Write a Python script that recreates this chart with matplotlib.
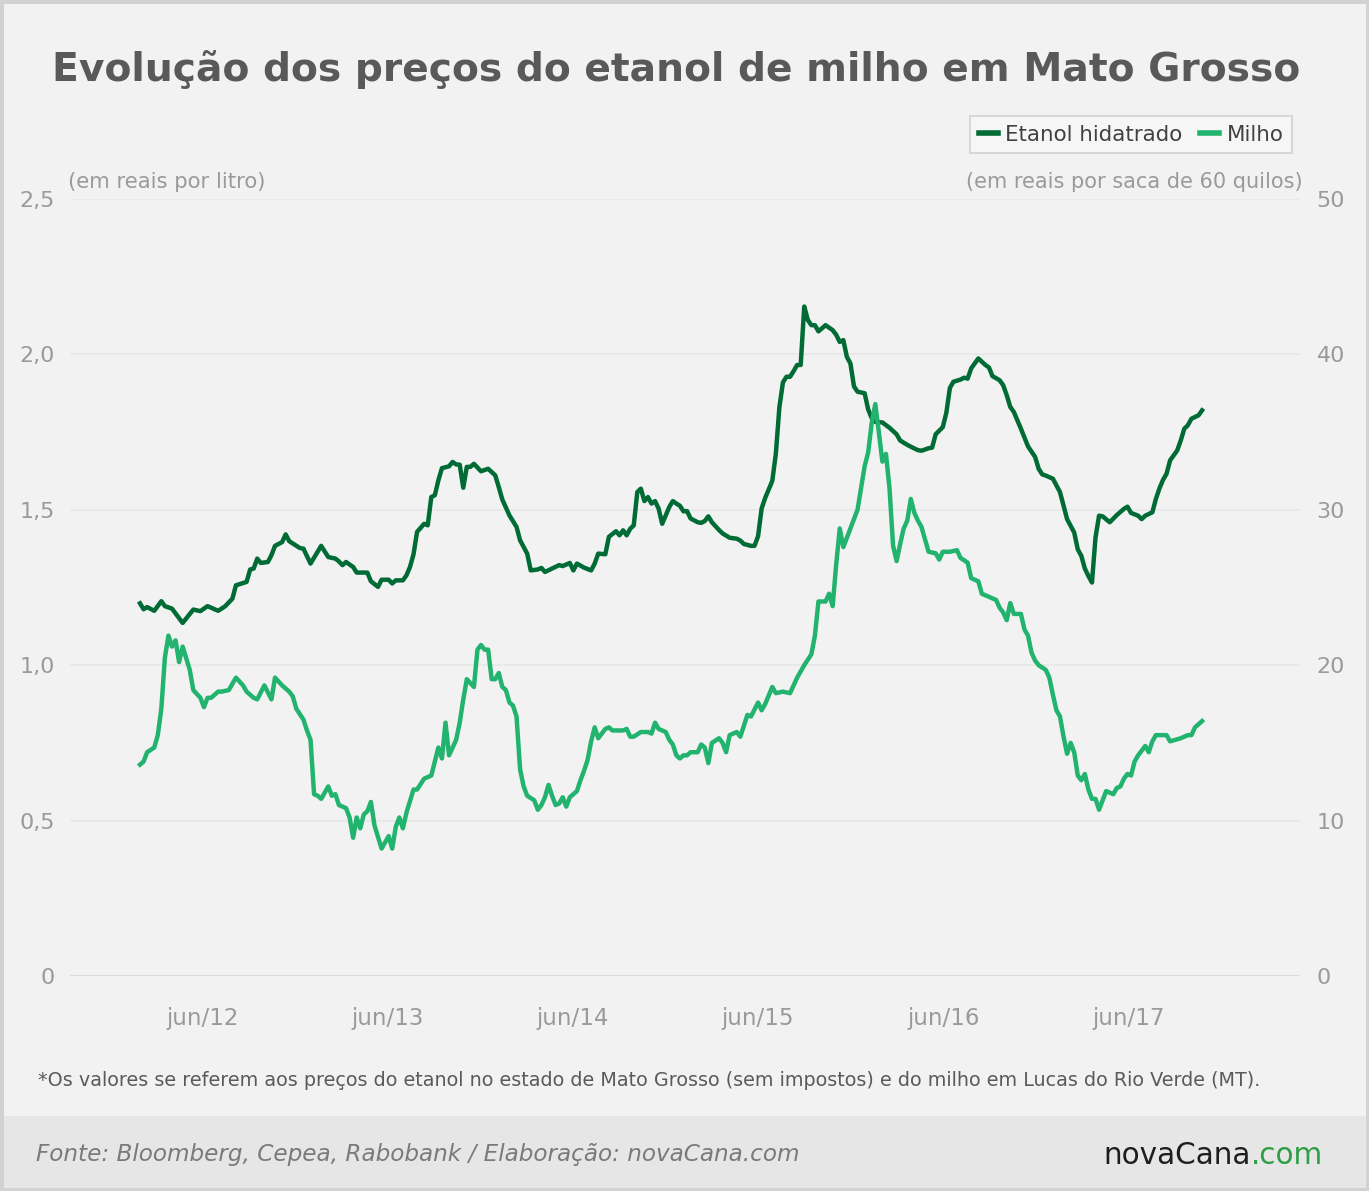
import numpy as np
import pandas as pd
import matplotlib
matplotlib.use("Agg")
import matplotlib.pyplot as plt
from matplotlib.patches import Rectangle

# weekly series, week 0 = 2012-01-30
START = pd.Timestamp("2012-01-30")

etanol_week = [0, 1, 2, 4, 6, 7, 9, 12, 15, 17, 19, 22, 24, 26, 27, 30, 31, 32, 33, 34,
               36, 37, 38, 40, 41, 42, 45, 46, 48, 51, 53, 55, 56, 57, 58, 60, 61, 64, 65, 67,
               68, 70, 71, 72, 74, 75, 76, 77, 78, 80, 81, 82, 83, 84, 85, 87, 88, 89, 90, 91,
               92, 93, 94, 96, 98, 100, 101, 102, 104, 106, 107, 109, 110, 112, 113, 114, 116, 118, 119, 121,
               122, 123, 125, 127, 128, 129, 131, 132, 134, 135, 136, 137, 138, 139, 140, 141, 142, 143, 144, 145,
               146, 147, 149, 150, 151, 152, 153, 154, 155, 157, 158, 159, 160, 161, 163, 164, 166, 168, 169, 170,
               172, 173, 174, 175, 176, 178, 179, 180, 181, 182, 183, 184, 185, 186, 187, 188, 189, 190, 191, 193,
               195, 196, 197, 198, 199, 200, 201, 202, 204, 205, 206, 207, 209, 211, 213, 214, 216, 217, 219, 220,
               222, 223, 224, 226, 227, 228, 229, 231, 232, 233, 234, 236, 238, 239, 240, 242, 243, 244, 245, 246,
               248, 250, 252, 253, 254, 255, 257, 259, 260, 261, 263, 264, 265, 266, 267, 268, 269, 270, 271, 273,
               275, 277, 278, 279, 281, 282, 283, 285, 286, 287, 288, 289, 290, 292, 293, 294, 295, 296, 298, 299]
etanol = [1.199, 1.18, 1.187, 1.175, 1.206, 1.19, 1.182, 1.136, 1.179, 1.174, 1.19, 1.175, 1.19, 1.214, 1.257, 1.268, 1.308, 1.311, 1.343, 1.329,
          1.332, 1.354, 1.384, 1.396, 1.421, 1.399, 1.377, 1.375, 1.327, 1.384, 1.348, 1.343, 1.334, 1.322, 1.332, 1.316, 1.298, 1.298, 1.27, 1.252,
          1.275, 1.275, 1.263, 1.273, 1.273, 1.289, 1.316, 1.357, 1.429, 1.455, 1.45, 1.541, 1.547, 1.595, 1.634, 1.640, 1.654, 1.646, 1.645, 1.571,
          1.638, 1.638, 1.648, 1.624, 1.632, 1.611, 1.573, 1.533, 1.482, 1.445, 1.402, 1.359, 1.305, 1.308, 1.313, 1.300, 1.311, 1.322, 1.319, 1.329,
          1.305, 1.327, 1.314, 1.305, 1.327, 1.359, 1.357, 1.413, 1.431, 1.418, 1.434, 1.418, 1.439, 1.45, 1.557, 1.568, 1.528, 1.541, 1.52, 1.528,
          1.504, 1.455, 1.509, 1.528, 1.52, 1.513, 1.495, 1.496, 1.472, 1.460, 1.458, 1.464, 1.479, 1.460, 1.435, 1.424, 1.410, 1.407, 1.401, 1.390,
          1.384, 1.384, 1.415, 1.504, 1.538, 1.593, 1.68, 1.83, 1.91, 1.928, 1.928, 1.946, 1.966, 1.966, 2.154, 2.111, 2.094, 2.094, 2.074, 2.094,
          2.078, 2.063, 2.040, 2.046, 1.992, 1.971, 1.897, 1.880, 1.875, 1.823, 1.795, 1.783, 1.781, 1.764, 1.743, 1.723, 1.709, 1.703, 1.692, 1.690,
          1.698, 1.700, 1.743, 1.766, 1.812, 1.892, 1.912, 1.919, 1.925, 1.922, 1.955, 1.987, 1.966, 1.958, 1.930, 1.917, 1.901, 1.869, 1.831, 1.815,
          1.761, 1.704, 1.670, 1.632, 1.614, 1.610, 1.600, 1.557, 1.513, 1.470, 1.427, 1.373, 1.352, 1.311, 1.287, 1.266, 1.411, 1.481, 1.479, 1.460,
          1.483, 1.503, 1.510, 1.490, 1.481, 1.470, 1.481, 1.492, 1.535, 1.569, 1.596, 1.616, 1.659, 1.691, 1.723, 1.761, 1.772, 1.793, 1.804, 1.820]

milho_week = [0, 1, 2, 4, 5, 6, 7, 8, 9, 10, 11, 12, 14, 15, 17, 18, 19, 20, 22, 23,
              25, 27, 29, 30, 32, 33, 35, 37, 38, 40, 42, 43, 44, 46, 47, 48, 49, 50, 51, 53,
              54, 55, 56, 58, 59, 60, 61, 62, 63, 64, 65, 66, 68, 70, 71, 72, 73, 74, 75, 77,
              78, 80, 82, 83, 84, 85, 86, 87, 89, 90, 91, 92, 94, 95, 96, 97, 98, 99, 100, 101,
              102, 103, 104, 105, 106, 107, 108, 109, 111, 112, 113, 114, 115, 116, 117, 118, 119, 120, 121, 123,
              124, 125, 126, 127, 128, 129, 131, 132, 133, 136, 137, 138, 139, 141, 143, 144, 145, 146, 148, 149,
              150, 151, 152, 153, 154, 155, 157, 158, 159, 160, 161, 163, 164, 165, 166, 168, 169, 171, 172, 174,
              175, 176, 178, 179, 181, 183, 185, 187, 189, 190, 191, 193, 194, 195, 196, 197, 198, 200, 202, 204,
              205, 206, 207, 208, 209, 210, 211, 212, 213, 214, 215, 216, 217, 218, 219, 220, 222, 224, 225, 226,
              228, 230, 231, 233, 234, 235, 236, 237, 239, 241, 242, 243, 244, 245, 246, 248, 249, 250, 251, 252,
              253, 255, 256, 257, 258, 259, 260, 261, 262, 263, 264, 265, 266, 267, 268, 269, 270, 271, 272, 274,
              275, 276, 277, 278, 279, 280, 281, 282, 283, 284, 285, 286, 289, 290, 293, 295, 296, 297, 299]
milho = [13.6, 13.8, 14.4, 14.7, 15.5, 17.2, 20.5, 21.9, 21.2, 21.6, 20.2, 21.2, 19.7, 18.4, 17.9, 17.3, 17.9, 17.9, 18.3, 18.3,
         18.4, 19.2, 18.7, 18.3, 17.9, 17.8, 18.7, 17.8, 19.2, 18.7, 18.3, 18.0, 17.2, 16.5, 15.8, 15.2, 11.7, 11.6, 11.4, 12.2,
         11.6, 11.7, 11.0, 10.8, 10.2, 8.9, 10.2, 9.5, 10.4, 10.6, 11.2, 9.7, 8.2, 9.0, 8.2, 9.6, 10.2, 9.5, 10.5, 12.0,
         12.0, 12.7, 12.9, 13.8, 14.7, 14.0, 16.3, 14.2, 15.2, 16.3, 17.8, 19.1, 18.6, 21.0, 21.3, 21.0, 21.0, 19.1, 19.1, 19.5,
         18.6, 18.4, 17.6, 17.4, 16.7, 13.3, 12.2, 11.6, 11.3, 10.7, 11.0, 11.5, 12.3, 11.6, 11.0, 11.1, 11.5, 10.9, 11.5, 11.9,
         12.6, 13.2, 13.9, 15.1, 16.0, 15.3, 15.9, 16.0, 15.8, 15.8, 15.9, 15.4, 15.4, 15.7, 15.7, 15.6, 16.3, 15.9, 15.7, 15.2,
         14.9, 14.2, 14.0, 14.2, 14.2, 14.4, 14.4, 14.9, 14.7, 13.7, 15.0, 15.3, 15.0, 14.4, 15.5, 15.7, 15.4, 16.8, 16.7, 17.6,
         17.1, 17.5, 18.6, 18.2, 18.3, 18.2, 19.2, 20.0, 20.7, 21.9, 24.1, 24.1, 24.6, 23.8, 26.5, 28.8, 27.6, 28.8, 30.0, 32.8,
         33.7, 35.6, 36.8, 35.0, 33.1, 33.6, 31.4, 27.7, 26.7, 27.8, 28.8, 29.3, 30.7, 29.8, 29.3, 28.9, 27.3, 27.2, 26.8, 27.3,
         27.3, 27.4, 26.9, 26.6, 25.6, 25.5, 25.4, 24.6, 24.4, 24.2, 23.7, 23.4, 22.9, 24.0, 23.3, 23.3, 22.3, 21.9, 20.8, 20.3,
         20.0, 19.7, 19.2, 18.1, 17.1, 16.7, 15.4, 14.3, 15.0, 14.4, 12.9, 12.6, 13.0, 12.0, 11.4, 11.4, 10.7, 11.3, 11.9, 11.7,
         12.1, 12.2, 12.7, 13.0, 12.9, 13.8, 14.2, 14.5, 14.8, 14.4, 15.1, 15.5, 15.5, 15.1, 15.3, 15.5, 15.5, 16.0, 16.4]

left_ticks = [0, 0.5, 1.0, 1.5, 2.0, 2.5]
left_labels = ["0", "0,5", "1,0", "1,5", "2,0", "2,5"]
right_ticks = [0, 10, 20, 30, 40, 50]
x_ticks = ["2012-06-01", "2013-06-01", "2014-06-01", "2015-06-01", "2016-06-01", "2017-06-01"]
x_labels = ["jun/12", "jun/13", "jun/14", "jun/15", "jun/16", "jun/17"]

C_ETANOL = "#006b35"
C_MILHO = "#22b36f"
GRAY = "#9a9a9a"

plt.rcParams["font.family"] = ["DejaVu Sans"]

W, H = 1369, 1191
fig = plt.figure(figsize=(W / 100, H / 100), dpi=100, facecolor="#f2f2f2")
renderer = fig.canvas.get_renderer()


def fit(t, width_px):
    # scale font so the text spans the same width as in the reference
    w = t.get_window_extent(renderer).width
    t.set_fontsize(t.get_fontsize() * width_px / w)


# footer band and outer frame
fig.patches.append(Rectangle((0, 0), 1, 75 / H, transform=fig.transFigure,
                             facecolor="#e6e6e6", edgecolor="none", zorder=0))
fig.patches.append(Rectangle((0, 0), 1, 1, transform=fig.transFigure, fill=False,
                             edgecolor="#d2d2d2", linewidth=5, zorder=5))

ax = fig.add_axes([70 / W, 1 - 976 / H, 1230 / W, 777 / H])
ax.set_facecolor("none")
ax2 = ax.twinx()

et_dates = START + pd.to_timedelta(np.array(etanol_week) * 7, unit="D")
mi_dates = START + pd.to_timedelta(np.array(milho_week) * 7, unit="D")

ax.plot(et_dates, etanol, color=C_ETANOL, lw=3.2, solid_joinstyle="round", zorder=3,
        label="Etanol hidatrado")
ax2.plot(mi_dates, milho, color=C_MILHO, lw=3.2, solid_joinstyle="round", zorder=3,
         label="Milho")

ax.set_ylim(0, 2.5)
ax2.set_ylim(0, 50)
ax.set_xlim(START - pd.Timedelta(days=138), START + pd.Timedelta(days=2286))

for t in left_ticks:
    ax.axhline(t, color="#dcdcdc" if t == 0 else "#e8e8e8", lw=1.5 if t == 0 else 1.2, zorder=1)

ax.set_yticks(left_ticks)
ax.set_yticklabels(left_labels)
ax2.set_yticks(right_ticks)
ax2.set_yticklabels([str(v) for v in right_ticks])
ax.set_xticks(pd.to_datetime(x_ticks))
ax.set_xticklabels(x_labels)

ax.tick_params(axis="y", length=0, pad=11, labelsize=16, labelcolor=GRAY)
ax2.tick_params(axis="y", length=0, pad=12, labelsize=16, labelcolor=GRAY)
ax.tick_params(axis="x", length=0, pad=22, labelsize=16.5, labelcolor=GRAY)
for a in (ax, ax2):
    for s in a.spines.values():
        s.set_visible(False)

t = fig.text(68 / W, 1 - 182 / H, "(em reais por litro)", fontsize=16, color=GRAY, va="center")
fit(t, 198)
t = fig.text(1303 / W, 1 - 182 / H, "(em reais por saca de 60 quilos)", fontsize=16,
             color=GRAY, va="center", ha="right")
fit(t, 338)

t = fig.text(676 / W, 1 - 70 / H, "Evolução dos preços do etanol de milho em Mato Grosso",
             fontsize=28, fontweight="bold", color="#595959", ha="center", va="center")
fit(t, 1248)

h1, l1 = ax.get_legend_handles_labels()
h2, l2 = ax2.get_legend_handles_labels()
leg = ax2.legend(h1 + h2, l1 + l2, loc="upper right", ncol=2,
                 bbox_to_anchor=(1292 / W, 1 - 116 / H), bbox_transform=fig.transFigure,
                 borderaxespad=0, frameon=True, fancybox=False, facecolor="#f8f8f8",
                 edgecolor="#c8c8c8", fontsize=15.4, handlelength=0.9, handletextpad=0.35,
                 columnspacing=0.8, borderpad=0.4)
leg.get_frame().set_linewidth(1.2)
for line in leg.get_lines():
    line.set_linewidth(4)
for txt in leg.get_texts():
    txt.set_color("#404040")

t = fig.text(38 / W, 1 - 1080 / H,
             "*Os valores se referem aos preços do etanol no estado de Mato Grosso (sem impostos) "
             "e do milho em Lucas do Rio Verde (MT).",
             fontsize=14, color="#5a5a5a", va="center")
fit(t, 1228)

t = fig.text(36 / W, 1 - 1155 / H, "Fonte: Bloomberg, Cepea, Rabobank / Elaboração: novaCana.com",
             fontsize=17, style="italic", color="#7a7a7a", va="center")
fit(t, 768)

# logo: measure the whole word, then split it in two colours
probe = fig.text(0, 0, "novaCana.com", fontsize=22)
fit(probe, 220)
logo_size = probe.get_fontsize()
probe.remove()
logo = fig.text(1103 / W, 1 - 1155 / H, "novaCana", fontsize=logo_size, color="#1e1e1e",
                va="center")
ext = logo.get_window_extent(renderer)
fig.text(ext.x1 / W, 1 - 1155 / H, ".com", fontsize=logo_size, color="#2e9e44",
         va="center", ha="left")

fig.savefig("out.png", dpi=100, facecolor=fig.get_facecolor())
